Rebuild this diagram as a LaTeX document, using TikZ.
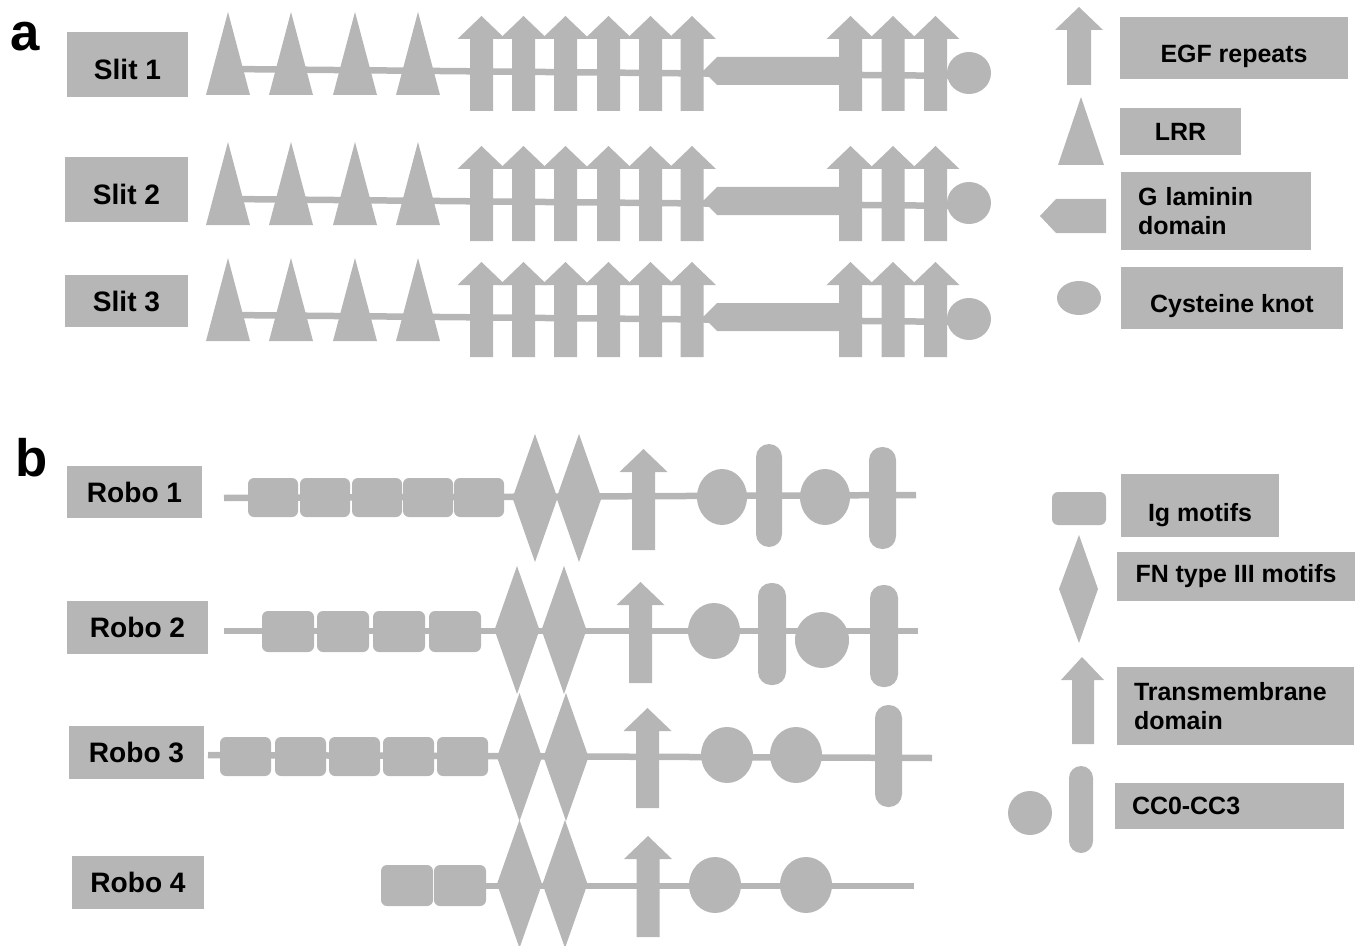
\documentclass[tikz,border=0pt]{standalone}
\usepackage{fontspec}
\setmainfont{Liberation Sans}
\usetikzlibrary{positioning}
\definecolor{domgray}{HTML}{B6B6B6}
\tikzset{
  dom/.style={fill=domgray, draw=none},
  backbone/.style={draw=domgray, line width=0.13cm},
  boxdim/.style 2 args={minimum width=#1*0.02cm, minimum height=#2*0.02cm},
  capshift/.style={text depth=0pt, text height=#1},
  protlab/.style={fill=domgray, font=\fontsize{16}{19}\selectfont\bfseries, inner sep=0pt},
  keylab/.style={fill=domgray, font=\fontsize{14.2}{16.5}\selectfont\bfseries, inner sep=0pt},
  keylft/.style={keylab, align=left, inner xsep=0.34cm, text width=#1},
  panel/.style={font=\fontsize{30}{32}\selectfont\bfseries, inner sep=0pt},
  igbox/.style={dom, rounded corners=0.12cm},
  rod/.style={dom, rounded corners=0.26cm},
  pics/arrowup/.style={code={
    \fill[domgray] (-11.5,0) -- (-11.5,-#1) -- (-24,-#1) -- (0,-#1-23)
      -- (24,-#1) -- (11.5,-#1) -- (11.5,0) -- cycle;}},
  pics/lrr/.style={code={\fill[domgray] (-22,0) -- (0,-83) -- (22,0) -- cycle;}},
  pics/fnIII/.style={code={\fill[domgray] (-22.5,0) -- (0,-64) -- (22.5,0) -- (0,64) -- cycle;}},
}

\begin{document}
\begin{tikzpicture}[x=0.02cm, y=-0.02cm]
  \useasboundingbox (0,0) rectangle (1360,946);

  % panel a: Slit proteins
  \node[panel] (pa) at (25,37) {a};
  \node[protlab, boxdim={121}{65}, capshift=16.6pt] (slit1) at (127.5,64.5) {Slit 1};
  \node[protlab, boxdim={123}{65}, capshift=16.6pt] (slit2) at (126.5,189.5) {Slit 2};
  \node[protlab, boxdim={123}{52}] (slit3) at (126.5,301) {Slit 3};

  \foreach \dy in {0,130,246}{
    \coordinate (sa) at (228,69+\dy);
    \coordinate (sb) at (969,76+\dy);
    \draw[backbone] (sa) -- (sb);
    \foreach \x in {228,291,355,418} \pic at (\x,95+\dy) {lrr};
    \foreach \x in {481.5,523.5,565.5,608.5,650.5,692} \pic at (\x,111+\dy) {arrowup=72};
    \fill[dom] (703,71+\dy) -- (717,57+\dy) -- (845,57+\dy) -- (845,85+\dy) -- (717,85+\dy) -- cycle;
    \foreach \x in {850.5,893,935.5} \pic at (\x,111+\dy) {arrowup=72};
    \fill[dom] (969,73+\dy) ellipse [x radius=22, y radius=21];
  }

  % key a
  \fill[dom] (1067,85) -- (1067,30) -- (1055,30) -- (1079,7) -- (1103,30) -- (1091,30) -- (1091,85) -- cycle;
  \fill[dom] (1058,165) -- (1081,97) -- (1104,165) -- cycle;
  \fill[dom] (1040,216) -- (1056,199) -- (1106,199) -- (1106,233) -- (1056,233) -- cycle;
  \fill[dom] (1079,298) ellipse [x radius=22, y radius=17];
  \node[keylab, boxdim={228}{62}, capshift=17pt] (kegf) at (1234,48) {EGF repeats};
  \node[keylab, boxdim={121}{47}] (klrr) at (1180.5,131.5) {LRR};
  \node[keylft=3.12cm, boxdim={190}{78}] (kglam) at (1216,211) {G laminin\\domain};
  \node[keylab, boxdim={222}{62}, capshift=16.4pt] (kcys) at (1232,298) {Cysteine knot};

  % panel b: Robo receptors
  \node[panel] (pb) at (32,458) {b};
  \node[protlab, boxdim={135}{52}] (robo1) at (134.5,492) {Robo 1};
  \node[protlab, boxdim={141}{53}] (robo2) at (137.5,627.5) {Robo 2};
  \node[protlab, boxdim={135}{53}] (robo3) at (136.5,752.5) {Robo 3};
  \node[protlab, boxdim={132}{53}] (robo4) at (138,882.5) {Robo 4};

  % Robo 1
  \coordinate (r1a) at (224,498);
  \coordinate (r1b) at (916,495);
  \draw[backbone] (r1a) -- (r1b);
  \foreach \x in {248,300,352,403,454} \fill[igbox] (\x,478) rectangle ++(50,39);
  \foreach \x in {535,579} \pic at (\x,498) {fnIII};
  \pic at (643.5,550) {arrowup=78};
  \foreach \x in {722,825} \fill[dom] (\x,497) ellipse [x radius=25, y radius=28];
  \fill[rod] (756,444) rectangle (782,547);
  \fill[rod] (869,447) rectangle (896,549);

  % Robo 2
  \coordinate (r2a) at (224,631);
  \coordinate (r2b) at (918,631);
  \draw[backbone] (r2a) -- (r2b);
  \foreach \x in {262,317,373,429} \fill[igbox] (\x,611) rectangle ++(52,41);
  \foreach \x in {517,564} \pic at (\x,630) {fnIII};
  \pic at (640.5,683) {arrowup=78};
  \fill[dom] (714,631) ellipse [x radius=26, y radius=28];
  \fill[dom] (822,640) ellipse [x radius=27, y radius=28];
  \fill[rod] (758,583) rectangle (786,685);
  \fill[rod] (870,585) rectangle (898,687);

  % Robo 3
  \coordinate (r3a) at (208,755);
  \coordinate (r3b) at (932,758);
  \draw[backbone] (r3a) -- (r3b);
  \foreach \x in {220,275,329,383,437} \fill[igbox] (\x,737) rectangle ++(51,39);
  \foreach \x in {519.5,566} \pic at (\x,757) {fnIII};
  \pic at (647.5,808) {arrowup=77};
  \foreach \x in {727,796} \fill[dom] (\x,755) ellipse [x radius=26, y radius=28];
  \fill[rod] (875,705) rectangle (902,807);

  % Robo 4
  \coordinate (r4a) at (470,886);
  \coordinate (r4b) at (914,886);
  \draw[backbone] (r4a) -- (r4b);
  \foreach \x in {381,434} \fill[igbox] (\x,865) rectangle ++(52,41);
  \foreach \x in {519.5,565} \pic at (\x,884) {fnIII};
  \pic at (648,937) {arrowup=78};
  \foreach \x in {715,806} \fill[dom] (\x,885) ellipse [x radius=26, y radius=28];

  % key b
  \fill[igbox] (1052,492) rectangle (1106,525);
  \fill[dom] (1059,589) -- (1079,535) -- (1098,589) -- (1079,643) -- cycle;
  \fill[dom] (1072,744) -- (1072,680) -- (1061,680) -- (1082,657) -- (1104,680) -- (1094,680) -- (1094,744) -- cycle;
  \fill[dom] (1030,813) circle [radius=22];
  \fill[dom, rounded corners=0.24cm] (1069,766) rectangle (1093,853);
  \node[keylab, boxdim={158}{63}, capshift=18.2pt] (kig) at (1200,505.5) {Ig motifs};
  \node[keylab, boxdim={238}{49}] (kfn) at (1236,576.5) {FN type III motifs};
  \node[keylft=4.06cm, boxdim={237}{78}] (ktm) at (1235.5,706) {Transmembrane\\domain};
  \node[keylft=3.9cm, boxdim={229}{46}] (kcc) at (1229.5,806) {CC0-CC3};
\end{tikzpicture}
\end{document}
